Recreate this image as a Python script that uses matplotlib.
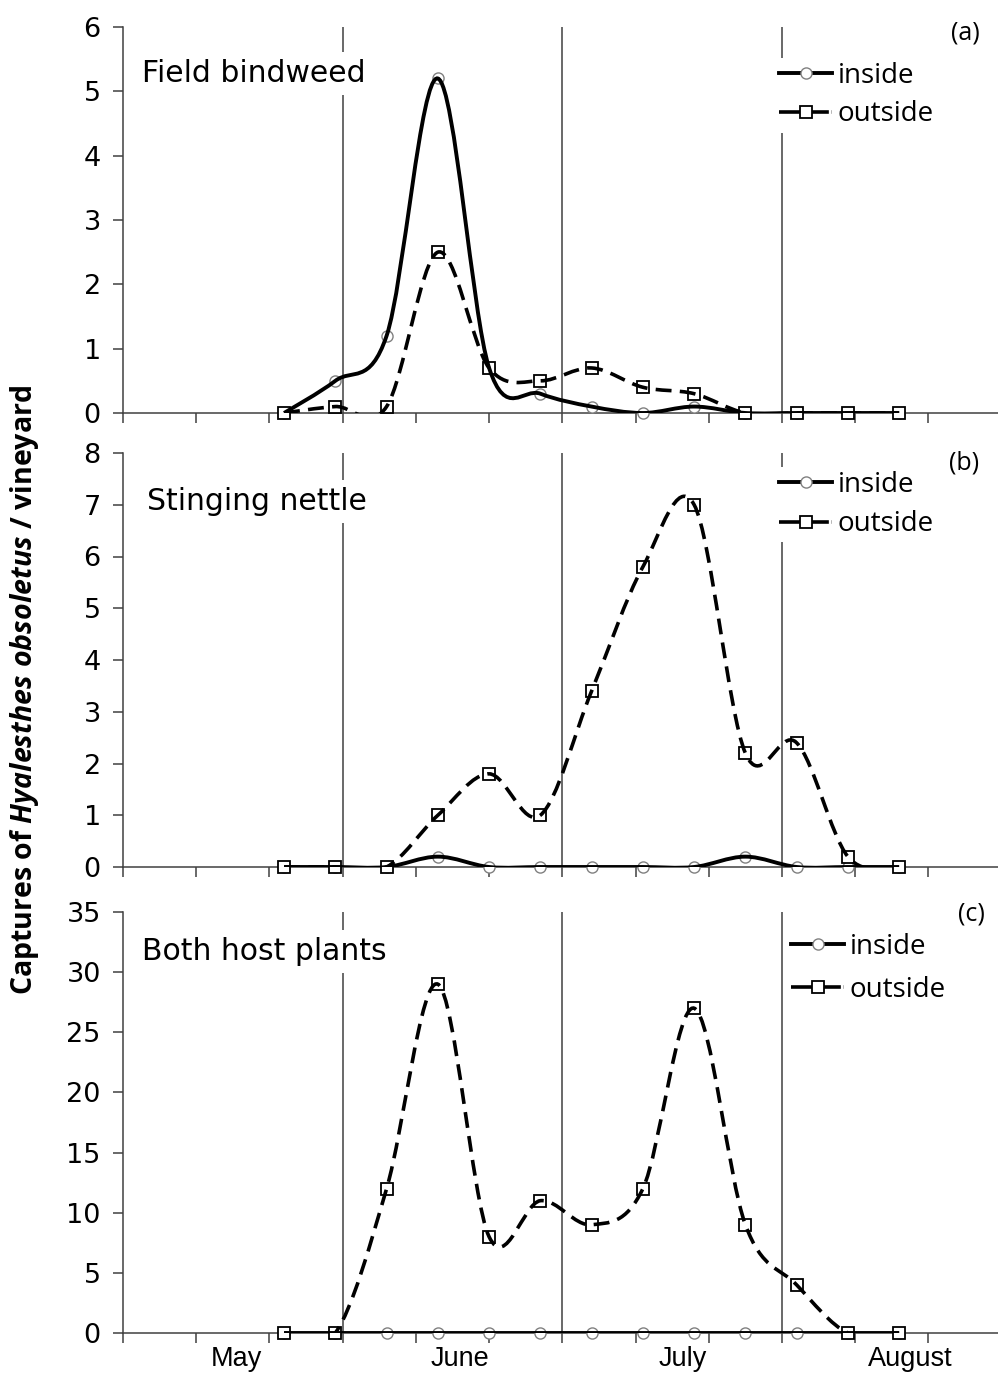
import numpy as np
import matplotlib
matplotlib.use("Agg")
from matplotlib import pyplot as plt
from matplotlib.path import Path
from matplotlib.patches import PathPatch
from matplotlib.lines import Line2D

# sampling dates, days counted from the start of May
sample_days = [22, 29, 36, 43, 50, 57, 64, 71, 78, 85, 92, 99, 106]

# (a) field bindweed
bindweed_inside = [0, 0.5, 1.2, 5.2, 0.7, 0.3, 0.1, 0, 0.1, 0, 0, 0, 0]
bindweed_outside = [0, 0.1, 0.1, 2.5, 0.7, 0.5, 0.7, 0.4, 0.3, 0, 0, 0, 0]

# (b) stinging nettle
nettle_inside = [0, 0, 0, 0.2, 0, 0, 0, 0, 0, 0.2, 0, 0, 0]
nettle_outside = [0, 0, 0, 1.0, 1.8, 1.0, 3.4, 5.8, 7.0, 2.2, 2.4, 0.2, 0]

# (c) both host plants
both_inside = [0, 0, 0, 0, 0, 0, 0, 0, 0, 0, 0, 0, 0]
both_outside = [0, 0, 12, 29, 8, 11, 9, 12, 27, 9, 4, 0, 0]

month_names = ["May", "June", "July", "August"]
month_centers = [15.5, 46, 76.5, 107.5]
month_bounds = [30, 60, 90]

panel_titles = ["Field bindweed", "Stinging nettle", "Both host plants"]
panel_tags = ["(a)", "(b)", "(c)"]
panel_ymax = [6, 8, 35]
panel_ystep = [1, 1, 5]

W, H = 998, 1376


def smooth_path(x, y):
    # Excel-like smoothed line: cubic Bezier through every point
    pts = np.column_stack([x, y]).astype(float)
    n = len(pts)
    verts = [pts[0]]
    codes = [Path.MOVETO]
    for i in range(n - 1):
        p0 = pts[i - 1] if i > 0 else pts[i]
        p1 = pts[i]
        p2 = pts[i + 1]
        p3 = pts[i + 2] if i + 2 < n else pts[i + 1]
        verts += [p1 + (p2 - p0) / 6, p2 - (p3 - p1) / 6, p2]
        codes += [Path.CURVE4] * 3
    return Path(verts, codes)


plt.rcParams["mathtext.fontset"] = "custom"
plt.rcParams["mathtext.it"] = "Open Sans:italic:bold"
plt.rcParams["mathtext.rm"] = "Open Sans:bold"
plt.rcParams["mathtext.bf"] = "Open Sans:bold"

fig = plt.figure(figsize=(W / 100, H / 100), dpi=100)

# axes boxes in pixels: (top of y range, y=0 line)
boxes = [(27, 413), (453, 867), (912, 1333)]
left_px, right_px = 123, 998

series = [
    (bindweed_inside, bindweed_outside),
    (nettle_inside, nettle_outside),
    (both_inside, both_outside),
]

# text positions in pixels
title_pos = [(142, 82), (147, 510), (142, 960)]
legend_pos = [(775, 58), (775, 467), (787, 929)]
legend_gap = [0.37, 0.4, 0.52]
tag_pos = [(965, 33), (964, 463), (971, 914)]

axis_color = "#404040"
lw_in, lw_out = 2.8, 2.6
dash = (0, (4.4, 2.3))

for k, ((top, bot), (inside, outside)) in enumerate(zip(boxes, series)):
    ax = fig.add_axes([left_px / W, 1 - bot / H, (right_px - left_px) / W, (bot - top) / H])
    ax.set_xlim(0, 119.5)
    ax.set_ylim(0, panel_ymax[k])

    for s in ["top", "right"]:
        ax.spines[s].set_visible(False)
    for s in ["left", "bottom"]:
        ax.spines[s].set_color(axis_color)
        ax.spines[s].set_linewidth(1.1)

    ax.set_yticks(np.arange(0, panel_ymax[k] + 0.1, panel_ystep[k]))
    ax.set_xticks(np.arange(0, 111, 10))
    ax.set_xticklabels([])
    ax.tick_params(axis="both", which="major", direction="out", length=7,
                   width=1.1, color=axis_color, labelsize=19.5, pad=9)
    for lab in ax.get_yticklabels():
        lab.set_family("DejaVu Sans")
    if k == 2:
        ax.set_xticks(month_centers, minor=True)
        ax.set_xticklabels(month_names, minor=True, family="Liberation Sans", fontsize=19.5)
        ax.tick_params(axis="x", which="minor", length=0, pad=9)

    for xb in month_bounds:
        ax.axvline(xb, color=axis_color, lw=1.1, zorder=1)

    # markers first, smoothed lines drawn over them
    ax.plot(sample_days, inside, linestyle="none", marker="o", ms=8,
            mfc="white", mec="#808080", mew=1.0, zorder=3, clip_on=False)
    ax.plot(sample_days, outside, linestyle="none", marker="s", ms=8.7,
            mfc="white", mec="black", mew=1.3, zorder=4, clip_on=False)
    ax.add_patch(PathPatch(smooth_path(sample_days, inside), fill=False,
                           lw=lw_in, color="black", zorder=5, capstyle="butt"))
    ax.add_patch(PathPatch(smooth_path(sample_days, outside), fill=False,
                           lw=lw_out, color="black", zorder=6, capstyle="butt",
                           linestyle=dash))

    tx, ty = title_pos[k]
    fig.text(tx / W, 1 - ty / H, panel_titles[k], family="DejaVu Sans",
             fontsize=21.5, va="baseline", ha="left", zorder=10,
             bbox=dict(facecolor="white", edgecolor="none", pad=5))

    gx, gy = tag_pos[k]
    fig.text(gx / W, 1 - gy / H, panel_tags[k], family="Open Sans", fontsize=18,
             ha="center", va="center")

    handles = [
        Line2D([], [], color="black", lw=lw_in, marker="o", ms=8, mfc="white",
               mec="#808080", mew=1.0),
        Line2D([], [], color="black", lw=lw_out, marker="s", ms=8.7, mfc="white",
               mec="black", mew=1.3, linestyle=(0, (6.5, 0.8)), dash_capstyle="butt"),
    ]
    lx, ly = legend_pos[k]
    leg = ax.legend(handles, ["inside", "outside"], loc="upper left",
                    bbox_to_anchor=(lx / W, 1 - ly / H), bbox_transform=fig.transFigure,
                    prop=dict(family="Open Sans", size=20), frameon=True, fancybox=False,
                    framealpha=1, facecolor="white", edgecolor="none",
                    borderpad=0.15, borderaxespad=0, handlelength=1.9,
                    handletextpad=0.2, labelspacing=legend_gap[k])
    leg.set_zorder(10)

fig.text(25 / W, 1 - 690 / H,
         r"Captures of $\mathit{Hyalesthes\ obsoletus}$ / vineyard",
         family="Open Sans", fontweight="bold", fontsize=20.5, rotation=90,
         ha="center", va="center")

fig.savefig("out.png", dpi=100)
